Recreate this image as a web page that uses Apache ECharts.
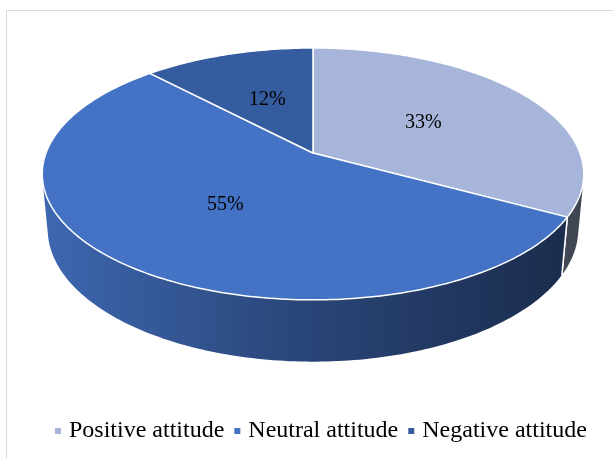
<!DOCTYPE html>
<html>
<head>
<meta charset="utf-8">
<script src="https://cdn.jsdelivr.net/npm/echarts@6/dist/echarts.min.js"></script>
<style>
html,body{margin:0;padding:0;background:#fff;}
#main{width:613px;height:459px;}
</style>
</head>
<body>
<div id="main"></div>
<script>
// ---- data ----
const categories = ['Positive attitude', 'Neutral attitude', 'Negative attitude'];
const values = [33, 55, 12];
const labels = ['33%', '55%', '12%'];
const colors = ['#A6B5D9', '#4472C4', '#355C9F'];

// ---- 3D projection settings (layout) ----
const CX = 313, CY = 153, K = 267, DIST = 5.35, TILT = 27.3 * Math.PI / 180, H = 0.235;
const SA = Math.sin(TILT), CA = Math.cos(TILT);

function proj(angDeg, r, y) {
  const a = angDeg * Math.PI / 180;
  const x = r * Math.sin(a), z = r * Math.cos(a);
  const yc = y * CA + z * SA;
  const dc = DIST + z * CA - y * SA;
  return [CX + K * x * DIST / dc, CY - K * yc * DIST / dc];
}

const total = values.reduce((s, v) => s + v, 0);
const angles = [];
(function () {
  let acc = 0;
  values.forEach(v => { angles.push([acc / total * 360, (acc + v) / total * 360]); acc += v; });
})();

const visLim = Math.acos(-1 / (DIST * CA)) * 180 / Math.PI; // visible wall range
const visLo = visLim, visHi = 360 - visLim;

function shade(hex, f) {
  const n = parseInt(hex.slice(1), 16);
  const r = Math.round(((n >> 16) & 255) * f), g = Math.round(((n >> 8) & 255) * f), b = Math.round((n & 255) * f);
  return 'rgb(' + r + ',' + g + ',' + b + ')';
}

function arcPts(a0, a1, y) {
  const pts = [];
  const n = Math.max(2, Math.ceil((a1 - a0) / 1));
  for (let i = 0; i <= n; i++) pts.push(proj(a0 + (a1 - a0) * i / n, 1, y));
  return pts;
}

function renderWall(params) {
  const i = params.dataIndex;
  const [a0, a1] = angles[i];
  const lo = Math.max(a0, visLo), hi = Math.min(a1, visHi);
  const children = [];
  if (hi > lo) {
    const top = arcPts(lo, hi, 0);
    const bot = arcPts(lo, hi, -H).reverse();
    const grad = new echarts.graphic.LinearGradient(43, 0, 583, 0, [
      { offset: 0, color: shade(colors[i], 0.9) },
      { offset: 0.5, color: shade(colors[i], 0.6) },
      { offset: 1, color: shade(colors[i], 0.38) }
    ], true);
    children.push({ type: 'polygon', shape: { points: top.concat(bot) }, style: { fill: grad, stroke: null } });
  }
  [a0, a1].forEach(b => {
    if (b > visLo && b < visHi) {
      const p = proj(b, 1, 0), q = proj(b, 1, -H);
      children.push({ type: 'line', shape: { x1: p[0], y1: p[1], x2: q[0], y2: q[1] }, style: { stroke: '#fff', lineWidth: 1.5 } });
    }
  });
  return { type: 'group', children };
}

function makeTopRender(i) {
  return function () {
    const [a0, a1] = angles[i];
    const pts = [proj(0, 0, 0)].concat(arcPts(a0, a1, 0));
    const mid = (a0 + a1) / 2;
    const lp = proj(mid, 0.5, 0);
    return {
      type: 'group',
      children: [
        { type: 'polygon', shape: { points: pts }, style: { fill: colors[i], stroke: '#fff', lineWidth: 1.5, lineJoin: 'round' } },
        { type: 'text', x: lp[0], y: lp[1], style: { text: labels[i], fill: '#000', font: '20px "Liberation Serif"', align: 'center', verticalAlign: 'middle' }, z2: 10 }
      ]
    };
  };
}

const series = [{
  type: 'custom',
  name: '__walls',
  coordinateSystem: 'none',
  z: 2,
  silent: true,
  data: values,
  renderItem: renderWall
}];
categories.forEach((c, i) => {
  series.push({
    type: 'custom',
    name: c,
    coordinateSystem: 'none',
    z: 3,
    silent: true,
    itemStyle: { color: colors[i] },
    data: [values[i]],
    renderItem: makeTopRender(i)
  });
});

const chart = echarts.init(document.getElementById('main'), null, { renderer: 'canvas' });
chart.setOption({
  animation: false,
  backgroundColor: '#fff',
  graphic: [{
    type: 'rect', z: -10, silent: true,
    shape: { x: 6.5, y: 10.5, width: 800, height: 600 },
    style: { fill: 'none', stroke: '#d9d9d9', lineWidth: 1 }
  }],
  legend: {
    data: categories,
    left: 50,
    top: 414,
    icon: 'rect',
    itemWidth: 6,
    itemHeight: 6,
    itemGap: 10,
    textStyle: { fontFamily: 'Liberation Serif', fontSize: 24, color: '#000', padding: [0, 0, 0, 3] }
  },
  series: series
});
</script>
</body>
</html>
